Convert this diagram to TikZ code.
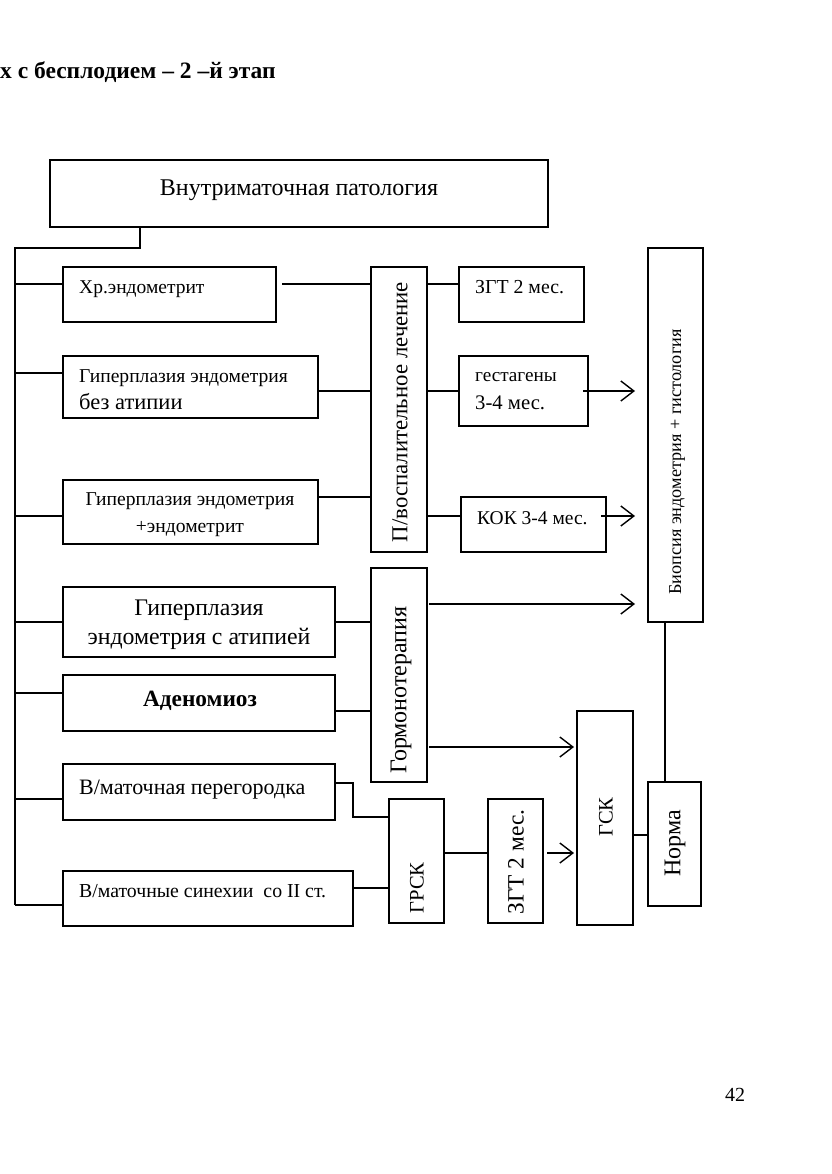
\documentclass[tikz,border=0pt]{standalone}
\usepackage{fontspec}
\setmainfont{Liberation Serif}
\usetikzlibrary{arrows.meta,calc}
\newcommand\fsz[1]{\fontsize{#1}{#1}\selectfont}
\begin{document}
\begin{tikzpicture}[x=1pt,y=-1pt,
  box/.style={draw, line width=1.4pt, inner sep=0pt, outer sep=0pt, anchor=north west},
  ln/.style={line width=1.4pt},
  arr/.style={line width=1.4pt, -{Straight Barb[length=13pt,width=20pt,line width=1.4pt]}},
  txt/.style={inner sep=0pt, anchor=base west},
  ctxt/.style={inner sep=0pt, anchor=base, align=center},
  vtxt/.style={inner sep=0pt, rotate=90},
]
\useasboundingbox (0,0) rectangle (831,1174);
\fill[white] (0,0) rectangle (831,1174);

% boxes
\node[box, minimum width=498pt, minimum height=67pt] (top) at (50,160) {};
\node[box, minimum width=213pt, minimum height=55pt] (hr) at (63,267) {};
\node[box, minimum width=255pt, minimum height=62pt] (hg1) at (63,356) {};
\node[box, minimum width=255pt, minimum height=64pt] (hg2) at (63,480) {};
\node[box, minimum width=272pt, minimum height=70pt] (hat) at (63,587) {};
\node[box, minimum width=272pt, minimum height=56pt] (aden) at (63,675) {};
\node[box, minimum width=272pt, minimum height=56pt] (sept) at (63,764) {};
\node[box, minimum width=290pt, minimum height=55pt] (syn) at (63,871) {};
\node[box, minimum width=56pt, minimum height=285pt] (pv) at (371,267) {};
\node[box, minimum width=125pt, minimum height=55pt] (zgt1) at (459,267) {};
\node[box, minimum width=129pt, minimum height=70pt] (gest) at (459,356) {};
\node[box, minimum width=145pt, minimum height=55pt] (kok) at (461,497) {};
\node[box, minimum width=55pt, minimum height=374pt] (bio) at (648,248) {};
\node[box, minimum width=56pt, minimum height=214pt] (horm) at (371,568) {};
\node[box, minimum width=56pt, minimum height=214pt] (gsk) at (577,711) {};
\node[box, minimum width=53pt, minimum height=124pt] (norma) at (648,782) {};
\node[box, minimum width=55pt, minimum height=124pt] (grsk) at (389,799) {};
\node[box, minimum width=55pt, minimum height=124pt] (zgt2) at (488,799) {};

% texts
\node[txt] (hdr) at (0,79) {\fsz{23.5}\bfseries х с бесплодием – 2 –й этап};
\node[ctxt] (ttop) at (299,196) {\fsz{24}Внутриматочная патология};
\node[txt] (thr) at (79,293) {\fsz{19.5}Хр.эндометрит};
\node[txt] (thg1a) at (79,382) {\fsz{19.6}Гиперплазия эндометрия};
\node[txt] (thg1b) at (79,409) {\fsz{22.5}без атипии};
\node[ctxt] (thg2a) at (190,505) {\fsz{19.6}Гиперплазия эндометрия};
\node[ctxt] (thg2b) at (190,532) {\fsz{19.6}+эндометрит};
\node[ctxt] (that1) at (199,615) {\fsz{23.8}Гиперплазия};
\node[ctxt] (that2) at (199,644) {\fsz{23.8}эндометрия с атипией};
\node[ctxt] (taden) at (200,706) {\fsz{23.3}\bfseries Аденомиоз};
\node[txt] (tsept) at (79,794) {\fsz{22}В/маточная перегородка};
\node[txt] (tsyn) at (79,897) {\fsz{19.8}В/маточные синехии\ \ со II ст.};
\node[txt] (tzgt1) at (475,293) {\fsz{19.8}ЗГТ 2 мес.};
\node[txt] (tgesta) at (475,381) {\fsz{19.2}гестагены};
\node[txt] (tgestb) at (475,409) {\fsz{20.7}3-4 мес.};
\node[txt] (tkok) at (477,524) {\fsz{19.5}КОК 3-4 мес.};
\node[vtxt] (tpv) at (400,412) {\fsz{22.8}П/воспалительное лечение};
\node[vtxt] (tbio) at (677,462) {\fsz{18.2}Биопсия эндометрия + гистология};
\node[vtxt] (thorm) at (401,690) {\fsz{24}Гормонотерапия};
\node[vtxt] (tgsk) at (606,817) {\fsz{20.6}ГСК};
\node[vtxt] (tnorma) at (675,843) {\fsz{24}Норма};
\node[vtxt] (tgrsk) at (417,888) {\fsz{20.6}ГРСК};
\node[vtxt] (tzgt2) at (516,862) {\fsz{23.4}ЗГТ 2 мес.};
\node[txt] (pg) at (725,1101) {\fsz{20}42};

% spine
\coordinate (c0) at (140,248);
\coordinate (sT) at (15,248);
\coordinate (sB) at (15,905);
\draw[ln] (top.south -| c0) -- (c0) -- (sT) -- (sB);
\coordinate (j1) at (15,284);
\coordinate (j2) at (15,373);
\coordinate (j3) at (15,516);
\coordinate (j4) at (15,622);
\coordinate (j5) at (15,693);
\coordinate (j6) at (15,799);
\coordinate (j7) at (15,905);
\draw[ln] (j1) -- (j1 -| hr.west);
\draw[ln] (j2) -- (j2 -| hg1.west);
\draw[ln] (j3) -- (j3 -| hg2.west);
\draw[ln] (j4) -- (j4 -| hat.west);
\draw[ln] (j5) -- (j5 -| aden.west);
\draw[ln] (j6) -- (j6 -| sept.west);
\draw[ln] (j7) -- (j7 -| syn.west);

% to P/v
\coordinate (k1) at (282,284);
\coordinate (k2) at (0,391);
\coordinate (k3) at (0,497);
\draw[ln] (k1) -- (k1 -| pv.west);
\draw[ln] (k2 -| hg1.east) -- (k2 -| pv.west);
\draw[ln] (k3 -| hg2.east) -- (k3 -| pv.west);
% from P/v
\coordinate (m1) at (0,284);
\coordinate (m2) at (0,391);
\coordinate (m3) at (0,516);
\draw[ln] (m1 -| pv.east) -- (m1 -| zgt1.west);
\draw[ln] (m2 -| pv.east) -- (m2 -| gest.west);
\draw[ln] (m3 -| pv.east) -- (m3 -| kok.west);
\draw[arr, shorten <=-5pt, shorten >=13pt] (m2 -| gest.east) -- (m2 -| bio.west);
\draw[arr, shorten <=-5pt, shorten >=13pt] (m3 -| kok.east) -- (m3 -| bio.west);

% hormone therapy
\coordinate (h1) at (0,622);
\coordinate (h2) at (0,711);
\draw[ln] (h1 -| hat.east) -- (h1 -| horm.west);
\draw[ln] (h2 -| aden.east) -- (h2 -| horm.west);
\coordinate (h3) at (0,604);
\coordinate (h4) at (0,747);
\draw[arr, shorten <=2pt, shorten >=13pt] (h3 -| horm.east) -- (h3 -| bio.west);
\draw[arr, shorten <=2pt, shorten >=3pt] (h4 -| horm.east) -- (h4 -| gsk.west);

% biopsy - norma - gsk
\coordinate (v1) at (665,0);
\draw[ln] (bio.south -| v1) -- (norma.north -| v1);
\coordinate (n1) at (0,835);
\draw[ln] (n1 -| gsk.east) -- (n1 -| norma.west);

% septum / synechiae to GRSK
\coordinate (p1) at (353,783);
\coordinate (p2) at (353,817);
\draw[ln] (p1 -| sept.east) -- (p1) -- (p2) -- (p2 -| grsk.west);
\coordinate (q1) at (0,888);
\draw[ln] (q1 -| syn.east) -- (q1 -| grsk.west);
\coordinate (r1) at (0,853);
\draw[ln] (r1 -| grsk.east) -- (r1 -| zgt2.west);
\draw[arr, shorten <=4pt, shorten >=3pt] (r1 -| zgt2.east) -- (r1 -| gsk.west);
\end{tikzpicture}
\end{document}
